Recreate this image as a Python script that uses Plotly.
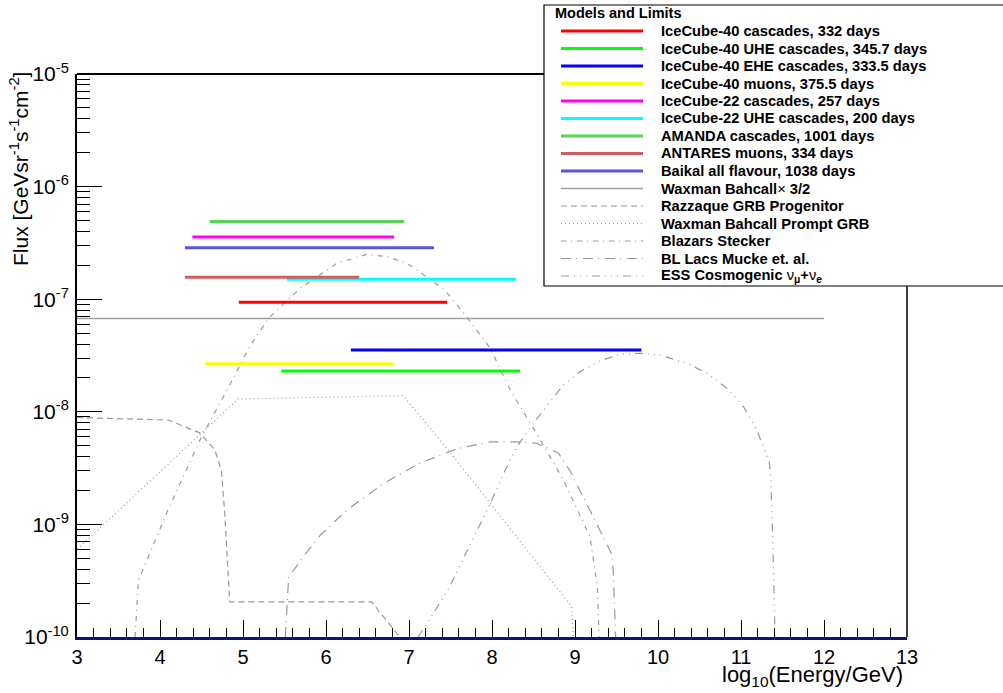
import plotly.graph_objects as go

# ---------------- data ----------------
# Experimental upper limits (horizontal segments): log10(E/GeV) span and flux level
limit_names = [
    "IceCube-40 cascades, 332 days",
    "IceCube-40 UHE cascades, 345.7 days",
    "IceCube-40 EHE cascades, 333.5 days",
    "IceCube-40 muons, 375.5 days",
    "IceCube-22 cascades, 257 days",
    "IceCube-22 UHE cascades, 200 days",
    "AMANDA cascades, 1001 days",
    "ANTARES muons, 334 days",
    "Baikal all flavour, 1038 days",
]
limit_emin = [4.95, 5.46, 6.30, 4.54, 4.39, 5.53, 4.60, 4.30, 4.30]
limit_emax = [7.46, 8.34, 9.80, 6.82, 6.82, 8.29, 6.94, 6.40, 7.30]
limit_flux = [9.4e-8, 2.3e-8, 3.54e-8, 2.67e-8, 3.56e-7, 1.5e-7, 4.9e-7, 1.57e-7, 2.86e-7]

# Waxman-Bahcall bound x 3/2
wb_e = [3.0, 12.0]
wb_flux = [6.75e-8, 6.75e-8]

# Model predictions
razzaque_e = [3.0, 4.10, 4.48, 4.66, 4.74, 4.78, 4.84, 6.55, 6.89]
razzaque_flux = [8.9e-9, 8.45e-9, 6.5e-9, 4.6e-9, 3.0e-9, 1.26e-9, 2.05e-10, 2.05e-10, 1.0e-10]

wb_prompt_e = [3.0, 4.94, 6.93, 7.47, 8.96, 8.98]
wb_prompt_flux = [6.0e-10, 1.30e-8, 1.39e-8, 4.6e-9, 1.86e-10, 1.0e-10]

stecker_e = [3.70, 3.74, 3.88, 4.08, 4.28, 4.48, 4.84, 5.08, 5.31, 5.69, 6.13, 6.49,
             6.75, 6.99, 7.21, 7.43, 7.68, 7.98, 8.22, 8.56, 8.86, 9.18, 9.27, 9.29]
stecker_flux = [1.0e-10, 3.2e-10, 5.6e-10, 1.26e-9, 2.65e-9, 5.6e-9, 1.73e-8, 3.8e-8,
                6.8e-8, 1.25e-7, 2.08e-7, 2.5e-7, 2.38e-7, 2.05e-7, 1.58e-7, 1.21e-7,
                7.2e-8, 3.66e-8, 1.56e-8, 6.0e-9, 2.48e-9, 7.8e-10, 2.8e-10, 1.0e-10]

mucke_e = [5.51, 5.55, 5.73, 5.93, 6.25, 6.69, 7.13, 7.58, 7.98, 8.38, 8.54, 8.80,
           8.94, 9.14, 9.34, 9.44, 9.46, 9.49]
mucke_flux = [1.0e-10, 3.4e-10, 5.2e-10, 8.0e-10, 1.34e-9, 2.3e-9, 3.5e-9, 4.7e-9,
              5.4e-9, 5.4e-9, 5.25e-9, 4.3e-9, 3.0e-9, 1.54e-9, 7.8e-10, 5.5e-10,
              3.9e-10, 1.0e-10]

ess_e = [7.11, 7.29, 7.49, 7.76, 7.98, 8.14, 8.30, 8.48, 8.86, 9.06, 9.30, 9.54,
         9.78, 10.02, 10.35, 10.59, 10.83, 11.03, 11.19, 11.34, 11.36, 11.39, 11.41]
ess_flux = [1.0e-10, 1.6e-10, 2.8e-10, 7.3e-10, 1.54e-9, 2.84e-9, 4.9e-9, 7.6e-9,
            1.73e-8, 2.27e-8, 2.82e-8, 3.24e-8, 3.31e-8, 3.19e-8, 2.7e-8, 2.2e-8,
            1.62e-8, 1.11e-8, 6.9e-9, 3.6e-9, 2.5e-9, 4.5e-10, 1.0e-10]

model_names = [
    "Razzaque GRB Progenitor",
    "Waxman Bahcall Prompt GRB",
    "Blazars Stecker",
    "BL Lacs Mucke et. al.",
    "ESS Cosmogenic <span style='font-weight:normal'>ν</span><sub>μ</sub>+<span style='font-weight:normal'>ν</span><sub>e</sub>",
]
wb_name = "Waxman Bahcall<span style='font-weight:normal'>×</span> 3/2"

x_ticks = [3, 4, 5, 6, 7, 8, 9, 10, 11, 12, 13]
y_ticks = [1e-10, 1e-9, 1e-8, 1e-7, 1e-6, 1e-5]
y_ticktext = ["10<sup>-10</sup>", "10<sup>-9</sup>", "10<sup>-8</sup>",
              "10<sup>-7</sup>", "10<sup>-6</sup>", "10<sup>-5</sup>"]

# ---------------- styles ----------------
FONT = "Liberation Sans, Arial, Helvetica, sans-serif"
limit_colors = ["#ff0000", "#00ff00", "#0000ff", "#ffff00", "#ff00ff", "#00ffff",
                "#59d454", "#cf5e61", "#5954d9"]
GRAY = "#9a9a9a"
model_dashes = ["6px,4px", "1px,3px", "5px,5px,1px,5px", "10px,5px,1px,6px",
                "8px,5px,1px,5px,1px,5px,1px,5px"]
model_data = [(razzaque_e, razzaque_flux), (wb_prompt_e, wb_prompt_flux),
              (stecker_e, stecker_flux), (mucke_e, mucke_flux), (ess_e, ess_flux)]

W, H = 1003, 693
L, R, T, B = 77, 907, 74, 637


def px_x(p):
    return (p - L) / (R - L)


def px_y(p):
    return (B - p) / (B - T)


fig = go.Figure()

# model curves
for (e, f), dash in zip(model_data, model_dashes):
    fig.add_trace(go.Scatter(x=e, y=f, mode="lines",
                             line=dict(color=GRAY, width=1.2, dash=dash),
                             showlegend=False, hoverinfo="skip"))

# Waxman-Bahcall bound
fig.add_trace(go.Scatter(x=wb_e, y=wb_flux, mode="lines",
                         line=dict(color="#a0a0a0", width=1.5),
                         showlegend=False, hoverinfo="skip"))

# upper limits
for e0, e1, fl, col in zip(limit_emin, limit_emax, limit_flux, limit_colors):
    fig.add_trace(go.Scatter(x=[e0, e1], y=[fl, fl], mode="lines",
                             line=dict(color=col, width=3),
                             showlegend=False, hoverinfo="skip"))

fig.update_layout(
    width=W, height=H,
    margin=dict(l=L, r=W - R, t=T, b=H - B),
    paper_bgcolor="white", plot_bgcolor="white",
    font=dict(family=FONT, color="black"),
    showlegend=False,
)

fig.update_xaxes(
    range=[3, 13], tickmode="array", tickvals=x_ticks,
    ticks="inside", ticklen=17, tickwidth=1, tickcolor="black",
    showgrid=False, zeroline=False,
    showline=True, linecolor="#10107a", linewidth=3,
    tickfont=dict(size=20, family=FONT),
    minor=dict(dtick=0.2, ticks="inside", ticklen=9, tickwidth=1,
               tickcolor="black", showgrid=False),
)

y_minor = [k * 10.0 ** n for n in range(-10, -5) for k in range(2, 10)]
fig.update_yaxes(
    type="log", range=[-10, -5], tickmode="array", tickvals=y_ticks,
    ticktext=y_ticktext,
    ticks="inside", ticklen=25, tickwidth=1, tickcolor="black",
    showgrid=False, zeroline=False,
    showline=True, linecolor="black", linewidth=2,
    tickfont=dict(size=21, family=FONT),
    ticklabelstandoff=2,
    minor=dict(tickvals=y_minor, ticks="inside", ticklen=13, tickwidth=1,
               tickcolor="black", showgrid=False),
)

shapes = []
# top and right frame lines
shapes.append(dict(type="line", xref="paper", yref="paper", x0=0, x1=1, y0=1, y1=1,
                   line=dict(color="black", width=2), layer="above"))
shapes.append(dict(type="line", xref="paper", yref="paper", x0=1, x1=1, y0=0, y1=1,
                   line=dict(color="black", width=1.5), layer="above"))

# legend box
shapes.append(dict(type="rect", xref="paper", yref="paper",
                   x0=px_x(544), x1=px_x(1005), y0=px_y(286), y1=px_y(5),
                   fillcolor="white", line=dict(color="black", width=1.2),
                   layer="above"))

annotations = []
annotations.append(dict(text="<b>Models and Limits</b>", xref="paper", yref="paper",
                        x=px_x(553), y=px_y(13), xanchor="left", yanchor="middle",
                        showarrow=False, font=dict(size=14.5, family=FONT)))

entries = []
for name, col in zip(limit_names, limit_colors):
    entries.append((name, dict(color=col, width=3)))
entries.append((wb_name, dict(color="#a0a0a0", width=1.5)))
for name, dash in zip(model_names, model_dashes):
    entries.append((name, dict(color=GRAY, width=1.2, dash=dash)))

row_y0, row_step = 31, 17.5
for i, (name, ln) in enumerate(entries):
    yy = row_y0 + i * row_step
    shapes.append(dict(type="line", xref="paper", yref="paper",
                       x0=px_x(561), x1=px_x(643), y0=px_y(yy), y1=px_y(yy),
                       line=ln, layer="above"))
    annotations.append(dict(text="<b>" + name + "</b>", xref="paper", yref="paper",
                            x=px_x(659), y=px_y(yy), xanchor="left", yanchor="middle",
                            showarrow=False, font=dict(size=14.7, family=FONT)))

# axis titles
annotations.append(dict(text="log<sub>10</sub>(Energy/GeV)", xref="paper", yref="paper",
                        x=px_x(905), y=px_y(660), xanchor="right", yanchor="top",
                        showarrow=False, font=dict(size=22, family=FONT)))
annotations.append(dict(text="Flux [GeVsr<sup>-1</sup>s<sup>-1</sup>cm<sup>-2</sup>]",
                        xref="paper", yref="paper", textangle=-90,
                        x=px_x(19), y=px_y(169), xanchor="center", yanchor="middle",
                        showarrow=False, font=dict(size=21, family=FONT)))

fig.update_layout(shapes=shapes, annotations=annotations)

fig.write_html("out.html")
